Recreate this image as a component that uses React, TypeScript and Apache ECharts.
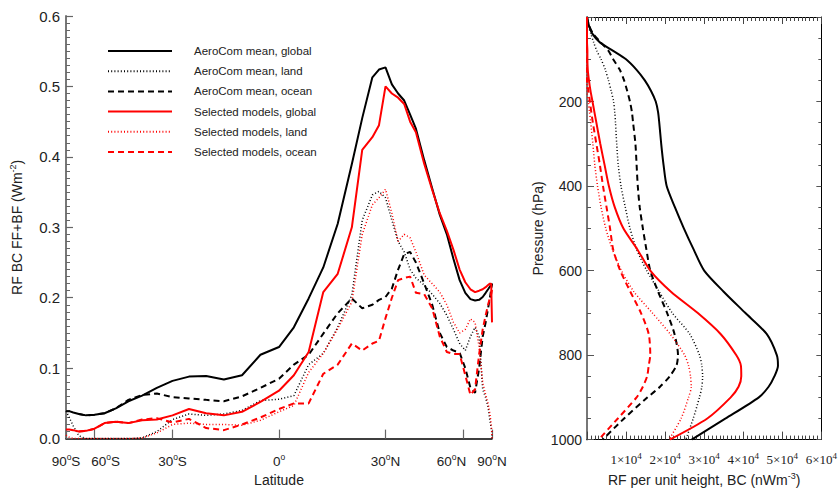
import React, { useEffect, useRef } from "react";
import * as echarts from "echarts";

// ---------- Left panel: zonal mean RF vs latitude ----------
const LAT = [-90,-85,-80,-75,-70,-65,-60,-55,-50,-45,-40,-35,-30,-25,-20,-15,-10,-5,0,4,8,12,16,20,23,26,28,30,32,34,36,38,40,43,46,49,52,55,58,61,64,67,70,73,76,79,82,85,88,90];

const AERO_GLOBAL = [0.039,0.039,0.039,0.037,0.035,0.033,0.034,0.036,0.043,0.053,0.061,0.072,0.082,0.088,0.089,0.084,0.090,0.119,0.130,0.158,0.199,0.243,0.305,0.390,0.455,0.513,0.524,0.527,0.503,0.490,0.480,0.460,0.440,0.395,0.355,0.318,0.290,0.255,0.225,0.207,0.198,0.196,0.197,0.201,0.207,0.212,0.216,0.218,0.219,0.220];
const AERO_LAND = [0.039,0.037,0.030,0.018,0.004,0,0,0,0,0,0.001,0.010,0.027,0.035,0.033,0.035,0.040,0.054,0.056,0.061,0.105,0.121,0.158,0.204,0.310,0.346,0.351,0.342,0.310,0.280,0.265,0.240,0.228,0.218,0.205,0.192,0.175,0.155,0.135,0.125,0.145,0.158,0.145,0.070,0.058,0.045,0.025,0.015,0.008,0];
const AERO_OCEAN = [null,null,null,null,0.035,0.033,0.034,0.036,0.043,0.055,0.062,0.064,0.059,0.057,0.055,0.053,0.060,0.072,0.085,0.105,0.119,0.149,0.178,0.199,0.185,0.190,0.197,0.201,0.213,0.240,0.262,0.265,0.250,0.220,0.190,0.150,0.130,0.125,0.122,0.100,0.072,0.065,0.100,0.145,0.165,0.185,0.200,0.212,0.218,0.220];
const SEL_GLOBAL = [0.013,0.013,0.013,0.012,0.010,0.011,0.014,0.022,0.024,0.022,0.026,0.027,0.033,0.042,0.036,0.033,0.038,0.052,0.068,0.090,0.123,0.208,0.234,0.300,0.410,0.428,0.445,0.500,0.490,0.484,0.475,0.450,0.435,0.390,0.353,0.320,0.295,0.268,0.240,0.222,0.212,0.208,0.210,0.212,0.215,0.218,0.220,0.220,0.220,0.165];
const SEL_LAND = [0.005,0.004,0.002,0,0,0,0,0,0,0,0.001,0.008,0.020,0.022,0.020,0.020,0.019,0.026,0.038,0.047,0.094,0.121,0.156,0.194,0.290,0.332,0.342,0.354,0.320,0.280,0.290,0.285,0.265,0.232,0.220,0.208,0.190,0.165,0.150,0.155,0.170,0.165,0.130,0.080,0.062,0.050,0.035,0.020,0.010,0];
const SEL_OCEAN = [null,null,null,null,0.010,0.011,0.014,0.022,0.024,0.022,0.027,0.029,0.023,0.028,0.015,0.012,0.020,0.030,0.042,0.050,0.050,0.092,0.105,0.135,0.125,0.135,0.139,0.171,0.200,0.225,0.228,0.230,0.207,0.205,0.185,0.145,0.123,0.120,0.120,0.090,0.062,0.070,0.120,0.155,0.175,0.190,0.200,0.205,0.210,0.215];

const LAT_TICKS = [-90, -60, -30, 0, 30, 60, 90];
const LAT_INNER_LABELS = [-60, -30, 0, 30, 60];
const LAT_EDGE_LABELS = [-90, 90];

// ---------- Right panel: vertical profile (units of 1e4 nW m-3) ----------
const PRESSURE = [0,20,40,60,80,100,125,150,175,200,225,250,300,350,400,450,500,550,600,650,700,750,800,825,850,875,900,950,1000];
const P_AERO_GLOBAL = [0,0.05,0.14,0.33,0.67,1.0,1.27,1.48,1.64,1.76,1.82,1.85,1.90,1.96,2.04,2.25,2.48,2.73,3.0,3.5,4.05,4.6,4.86,4.89,4.8,4.65,4.4,3.55,2.68];
const P_AERO_LAND = [0,0.03,0.1,0.17,0.25,0.36,0.47,0.55,0.62,0.68,0.71,0.73,0.76,0.8,0.87,0.98,1.1,1.27,1.53,1.85,2.18,2.63,2.88,2.94,2.96,2.94,2.88,2.72,2.53];
const P_AERO_OCEAN = [0,0.05,0.16,0.35,0.55,0.67,0.84,0.95,1.03,1.1,1.15,1.18,1.24,1.27,1.3,1.35,1.43,1.52,1.62,1.82,2.05,2.24,2.33,2.29,2.12,1.87,1.55,0.95,0.4];
const P_SEL_GLOBAL = [0,0,0,0,0.01,0.01,0.02,0.05,0.09,0.14,0.19,0.24,0.34,0.45,0.56,0.71,0.93,1.29,1.62,2.15,2.83,3.42,3.82,3.94,3.95,3.88,3.68,3.08,2.12];
const P_SEL_LAND = [0,0,0,0,0,0,0,0,0,0.035,0.065,0.095,0.15,0.2,0.27,0.36,0.48,0.65,0.88,1.2,1.67,2.13,2.5,2.6,2.65,2.67,2.6,2.41,2.1];
const P_SEL_OCEAN = [0,0,0,0,0,0,0,0,0.035,0.075,0.11,0.15,0.24,0.33,0.41,0.5,0.59,0.67,0.85,1.11,1.38,1.58,1.62,1.58,1.54,1.43,1.27,0.79,0.3];

const NAMES = [
  "AeroCom mean, global",
  "AeroCom mean, land",
  "AeroCom mean, ocean",
  "Selected models, global",
  "Selected models, land",
  "Selected models, ocean",
];

const SANS = '"Liberation Sans", Arial, Helvetica, sans-serif';
const SERIF = '"Liberation Serif", "Times New Roman", serif';

const STYLES = [
  { color: "#000000", type: "solid", width: 2 },
  { color: "#000000", type: [1, 2.2], width: 1.5 },
  { color: "#000000", type: [6, 4], width: 2 },
  { color: "#ff0000", type: "solid", width: 2 },
  { color: "#ff0000", type: [1, 2.2], width: 1.5 },
  { color: "#ff0000", type: [6, 4], width: 2 },
];

const toSin = (lat: number) => Math.sin((lat * Math.PI) / 180);

function latData(vals: (number | null)[]) {
  const out: number[][] = [];
  LAT.forEach((lat, i) => {
    const v = vals[i];
    if (v !== null && v !== undefined) out.push([toSin(lat), v]);
  });
  return out;
}

function profData(vals: number[]) {
  return PRESSURE.map((p, i) => [vals[i], p]);
}

const supRich = {
  a: { fontFamily: SANS, fontSize: 14, color: "#222", lineHeight: 18, verticalAlign: "middle" as const },
  s: { fontFamily: SANS, fontSize: 9, color: "#222", lineHeight: 12, verticalAlign: "top" as const },
};

const latRich = {
  a: { fontFamily: SANS, fontSize: 13.5, color: "#222", lineHeight: 17, verticalAlign: "middle" as const },
  s: { fontFamily: SANS, fontSize: 8.5, color: "#222", lineHeight: 11, verticalAlign: "top" as const },
  l: { width: 22 },
  r: { width: 24 },
};

export default function App() {
  const ref = useRef<HTMLDivElement>(null);

  useEffect(() => {
    if (!ref.current) return;
    const chart = echarts.init(ref.current, undefined, { renderer: "svg" });

    const leftVals = [AERO_GLOBAL, AERO_LAND, AERO_OCEAN, SEL_GLOBAL, SEL_LAND, SEL_OCEAN];
    const rightVals = [P_AERO_GLOBAL, P_AERO_LAND, P_AERO_OCEAN, P_SEL_GLOBAL, P_SEL_LAND, P_SEL_OCEAN];

    const series: any[] = [];
    NAMES.forEach((name, i) => {
      series.push({
        name,
        type: "line",
        xAxisIndex: 0,
        yAxisIndex: 0,
        data: latData(leftVals[i]),
        symbol: "none",
        lineStyle: { ...STYLES[i] },
        itemStyle: { color: STYLES[i].color },
        z: 3 + (i >= 3 ? 1 : 0),
      });
    });
    NAMES.forEach((name, i) => {
      series.push({
        name,
        type: "line",
        xAxisIndex: 1,
        yAxisIndex: 1,
        data: profData(rightVals[i]),
        symbol: "none",
        smooth: 0.25,
        lineStyle: { ...STYLES[i] },
        itemStyle: { color: STYLES[i].color },
        z: 3 + (i >= 3 ? 1 : 0),
      });
    });

    const latFmt = (v: number) => {
      const lat = Math.round((Math.asin(Math.max(-1, Math.min(1, v))) * 180) / Math.PI);
      const a = Math.abs(lat);
      const h = lat < 0 ? "S" : lat > 0 ? "N" : "";
      let s = `{a|${a}}{s|o}` + (h ? `{a|${h}}` : "");
      if (lat === -60) s = `{l|}` + s;
      if (lat === 60) s = s + `{r|}`;
      return s;
    };

    const latAxisBase = {
      gridIndex: 0,
      type: "value",
      min: -1,
      max: 1,
      position: "bottom",
      splitLine: { show: false },
    };

    const option: any = {
      animation: false,
      backgroundColor: "#ffffff",
      textStyle: { fontFamily: SANS },
      legend: {
        data: NAMES,
        orient: "vertical",
        left: 107,
        top: 45,
        padding: 0,
        itemWidth: 64,
        itemHeight: 14,
        itemGap: 8.2,
        selectedMode: false,
        itemStyle: { opacity: 0 },
        formatter: (n: string) => `{p|}{t|${n}}`,
        textStyle: {
          rich: {
            p: { width: 17 },
            t: { fontFamily: SANS, fontSize: 11.5, color: "#222", lineHeight: 14 },
          },
        },
      },
      grid: [
        { left: 64, top: 16, width: 428, height: 435, containLabel: false },
        { left: 587, top: 17, width: 237, height: 433, containLabel: false },
      ],
      xAxis: [
        {
          ...latAxisBase,
          axisLine: { show: true, onZero: false, lineStyle: { color: "#000", width: 1.5 } },
          axisTick: { show: true, inside: true, length: 9, customValues: LAT_TICKS.map(toSin), lineStyle: { color: "#666", width: 1.2 } },
          axisLabel: {
            customValues: LAT_INNER_LABELS.map(toSin),
            formatter: latFmt,
            margin: 14,
            showMinLabel: true,
            showMaxLabel: true,
            rich: latRich,
          },
          name: "Latitude",
          nameLocation: "middle",
          nameGap: 33,
          nameTextStyle: { fontFamily: SANS, fontSize: 14, color: "#222" },
        },
        {
          gridIndex: 1,
          type: "value",
          min: 0,
          max: 6,
          interval: 1,
          position: "bottom",
          axisLine: { show: true, onZero: false, lineStyle: { color: "#000", width: 1.2 } },
          axisTick: { show: true, inside: true, length: 8, lineStyle: { color: "#444", width: 1 } },
          minorTick: { show: true, splitNumber: 10, length: 4, lineStyle: { color: "#444", width: 1 } },
          axisLabel: {
            margin: 12,
            showMaxLabel: true,
            formatter: (v: number) => (v === 0 ? "" : `{a|${v}×10}{s|4}`),
            rich: {
              a: { fontFamily: SERIF, fontSize: 13, color: "#222", lineHeight: 16, verticalAlign: "middle" },
              s: { fontFamily: SERIF, fontSize: 9, color: "#222", lineHeight: 10, verticalAlign: "top" },
            },
          },
          splitLine: { show: false },
          name: "{a|RF per unit height, BC (nWm}{s|-3}{a|)}",
          nameLocation: "middle",
          nameGap: 29,
          nameTextStyle: { rich: supRich },
        },
        {
          gridIndex: 1,
          type: "value",
          min: 0,
          max: 6,
          interval: 1,
          position: "top",
          axisLine: { show: true, onZero: false, lineStyle: { color: "#000", width: 1 } },
          axisTick: { show: true, inside: true, length: 7, lineStyle: { color: "#444", width: 1 } },
          minorTick: { show: true, splitNumber: 10, length: 4, lineStyle: { color: "#444", width: 1 } },
          axisLabel: { show: false },
          splitLine: { show: false },
        },
        {
          ...latAxisBase,
          axisLine: { show: false },
          axisTick: { show: false },
          axisLabel: {
            customValues: LAT_EDGE_LABELS.map(toSin),
            formatter: latFmt,
            margin: 14,
            showMinLabel: true,
            showMaxLabel: true,
            rich: latRich,
          },
        },
      ],
      yAxis: [
        {
          gridIndex: 0,
          type: "value",
          min: 0,
          max: 0.6,
          interval: 0.1,
          axisLine: { show: true, onZero: false, lineStyle: { color: "#777", width: 2 } },
          axisTick: { show: true, inside: true, length: 7, lineStyle: { color: "#666", width: 1.2 } },
          minorTick: { show: true, splitNumber: 10, length: 4, lineStyle: { color: "#666", width: 1 } },
          axisLabel: {
            margin: 6,
            fontFamily: SANS,
            fontSize: 15,
            color: "#222",
            formatter: (v: number) => v.toFixed(1),
          },
          splitLine: { show: false },
          name: "{a|RF BC FF+BF (Wm}{s|-2}{a|)}",
          nameLocation: "middle",
          nameGap: 40,
          nameTextStyle: { rich: supRich },
        },
        {
          gridIndex: 1,
          type: "value",
          inverse: true,
          min: 0,
          max: 1000,
          interval: 200,
          position: "left",
          axisLine: { show: true, onZero: false, lineStyle: { color: "#777", width: 2 } },
          axisTick: { show: true, inside: true, length: 7, lineStyle: { color: "#555", width: 1 } },
          minorTick: { show: true, splitNumber: 4, length: 4, lineStyle: { color: "#555", width: 1 } },
          axisLabel: {
            margin: 5,
            fontFamily: SANS,
            fontSize: 14,
            color: "#222",
            formatter: (v: number) => (v === 0 ? "" : String(v)),
          },
          splitLine: { show: false },
          name: "Pressure (hPa)",
          nameLocation: "middle",
          nameGap: 42,
          nameTextStyle: { fontFamily: SANS, fontSize: 14, color: "#222" },
        },
        {
          gridIndex: 1,
          type: "value",
          inverse: true,
          min: 0,
          max: 1000,
          interval: 200,
          position: "right",
          axisLine: { show: true, onZero: false, lineStyle: { color: "#000", width: 1 } },
          axisTick: { show: true, inside: true, length: 5, lineStyle: { color: "#555", width: 1 } },
          minorTick: { show: true, splitNumber: 4, length: 3, lineStyle: { color: "#555", width: 1 } },
          axisLabel: { show: false },
          splitLine: { show: false },
        },
      ],
      series,
    };

    chart.setOption(option);
    return () => chart.dispose();
  }, []);

  return <div ref={ref} style={{ width: 840, height: 492, position: "absolute", left: 0, top: 0 }} />;
}
